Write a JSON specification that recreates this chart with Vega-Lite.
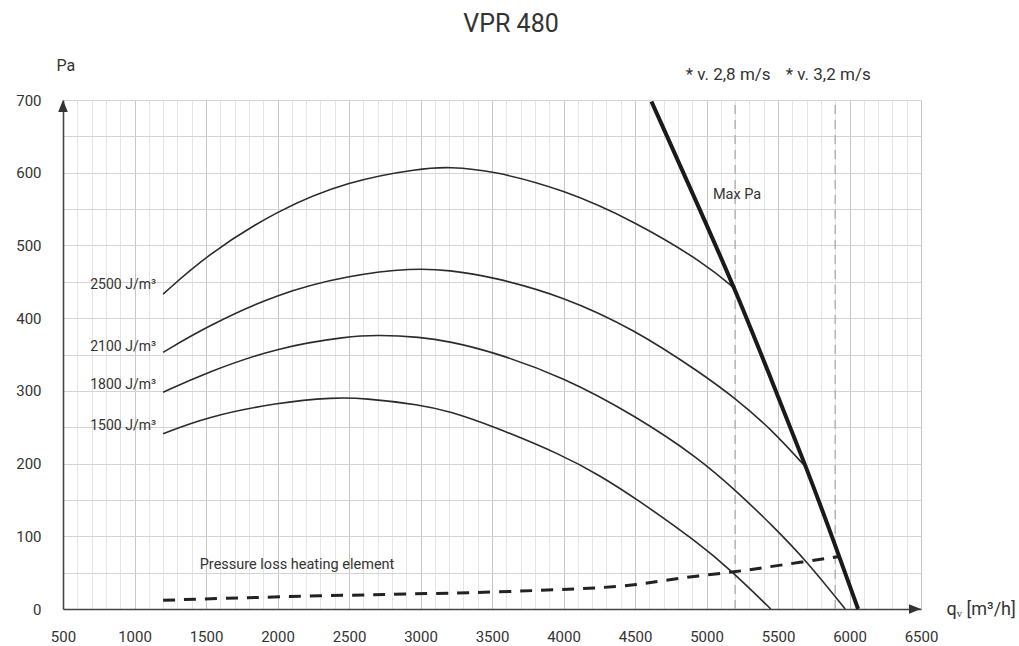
{
  "$schema": "https://vega.github.io/schema/vega-lite/v6.json",
  "width": 858,
  "height": 509,
  "autosize": {"type": "none"},
  "padding": {"left": 63, "top": 100, "right": 98, "bottom": 37},
  "background": "white",
  "config": {
    "view": {"stroke": null},
    "font": "Roboto",
    "text": {"font": "Roboto", "color": "#333333"}
  },
  "title": {
    "text": "VPR 480",
    "fontSize": 25,
    "fontWeight": "normal",
    "font": "Roboto",
    "color": "#333333",
    "anchor": "middle",
    "frame": "group",
    "dx": 19,
    "offset": 20
  },
  "datasets": {
    "curves": [
      {"curve": "2500", "q": 1200, "pa": 433},
      {"curve": "2500", "q": 1500, "pa": 486},
      {"curve": "2500", "q": 2000, "pa": 549},
      {"curve": "2500", "q": 2500, "pa": 589},
      {"curve": "2500", "q": 3000, "pa": 606},
      {"curve": "2500", "q": 3200, "pa": 608},
      {"curve": "2500", "q": 3500, "pa": 603},
      {"curve": "2500", "q": 4000, "pa": 577},
      {"curve": "2500", "q": 4500, "pa": 533},
      {"curve": "2500", "q": 5000, "pa": 474},
      {"curve": "2500", "q": 5200, "pa": 440},
      {"curve": "2100", "q": 1200, "pa": 353},
      {"curve": "2100", "q": 1500, "pa": 388},
      {"curve": "2100", "q": 2000, "pa": 434},
      {"curve": "2100", "q": 2500, "pa": 459},
      {"curve": "2100", "q": 2950, "pa": 469},
      {"curve": "2100", "q": 3200, "pa": 466},
      {"curve": "2100", "q": 3500, "pa": 457},
      {"curve": "2100", "q": 4000, "pa": 430},
      {"curve": "2100", "q": 4500, "pa": 384},
      {"curve": "2100", "q": 4950, "pa": 326},
      {"curve": "2100", "q": 5200, "pa": 290},
      {"curve": "2100", "q": 5450, "pa": 248},
      {"curve": "2100", "q": 5700, "pa": 194},
      {"curve": "1800", "q": 1200, "pa": 298},
      {"curve": "1800", "q": 1500, "pa": 325},
      {"curve": "1800", "q": 2000, "pa": 360},
      {"curve": "1800", "q": 2500, "pa": 375},
      {"curve": "1800", "q": 2700, "pa": 377},
      {"curve": "1800", "q": 3000, "pa": 374},
      {"curve": "1800", "q": 3200, "pa": 368},
      {"curve": "1800", "q": 3500, "pa": 354},
      {"curve": "1800", "q": 4000, "pa": 319},
      {"curve": "1800", "q": 4500, "pa": 266},
      {"curve": "1800", "q": 4950, "pa": 207},
      {"curve": "1800", "q": 5210, "pa": 162},
      {"curve": "1800", "q": 5465, "pa": 114},
      {"curve": "1800", "q": 5700, "pa": 66},
      {"curve": "1800", "q": 5970, "pa": 0},
      {"curve": "1500", "q": 1200, "pa": 241},
      {"curve": "1500", "q": 1500, "pa": 264},
      {"curve": "1500", "q": 2000, "pa": 284},
      {"curve": "1500", "q": 2400, "pa": 291},
      {"curve": "1500", "q": 2600, "pa": 290},
      {"curve": "1500", "q": 3000, "pa": 281},
      {"curve": "1500", "q": 3200, "pa": 272},
      {"curve": "1500", "q": 3500, "pa": 252},
      {"curve": "1500", "q": 4000, "pa": 211},
      {"curve": "1500", "q": 4250, "pa": 184},
      {"curve": "1500", "q": 4500, "pa": 153},
      {"curve": "1500", "q": 4950, "pa": 90},
      {"curve": "1500", "q": 5160, "pa": 55},
      {"curve": "1500", "q": 5450, "pa": 0}
    ],
    "maxPa": [
      {"q": 4615, "pa": 698},
      {"q": 4900, "pa": 573},
      {"q": 5200, "pa": 440},
      {"q": 5450, "pa": 317},
      {"q": 5700, "pa": 194},
      {"q": 5900, "pa": 88},
      {"q": 6060, "pa": 0}
    ],
    "heating": [
      {"q": 1200, "pa": 12},
      {"q": 2000, "pa": 17},
      {"q": 3000, "pa": 21},
      {"q": 3500, "pa": 23},
      {"q": 4000, "pa": 27},
      {"q": 4250, "pa": 29},
      {"q": 4500, "pa": 33},
      {"q": 4700, "pa": 39},
      {"q": 4950, "pa": 46},
      {"q": 5200, "pa": 51},
      {"q": 5400, "pa": 57},
      {"q": 5650, "pa": 64},
      {"q": 5920, "pa": 72}
    ],
    "speed": [
      {"q": 5200, "pa": 0, "pa2": 700},
      {"q": 5900, "pa": 0, "pa2": 700}
    ],
    "speedLabels": [
      {"q": 5200, "pa": 728, "label": "* v. 2,8 m/s"},
      {"q": 5900, "pa": 728, "label": "* v. 3,2 m/s"}
    ],
    "curveLabels": [
      {"q": 1200, "pa": 446, "label": "2500 J/m³"},
      {"q": 1200, "pa": 361, "label": "2100 J/m³"},
      {"q": 1200, "pa": 308, "label": "1800 J/m³"},
      {"q": 1200, "pa": 251, "label": "1500 J/m³"}
    ],
    "notes": [
      {"q": 5045, "pa": 569, "label": "Max Pa"},
      {"q": 1456, "pa": 60, "label": "Pressure loss heating element"}
    ],
    "arrows": [
      {"q": 6500, "pa": 0, "dir": "right"},
      {"q": 500, "pa": 700, "dir": "up"}
    ]
  },
  "encoding": {
    "x": {
      "field": "q",
      "type": "quantitative",
      "scale": {"domain": [500, 6500], "nice": false, "zero": false},
      "axis": {
        "values": [500, 600, 700, 800, 900, 1000, 1100, 1200, 1300, 1400, 1500, 1600, 1700, 1800, 1900, 2000, 2100, 2200, 2300, 2400, 2500, 2600, 2700, 2800, 2900, 3000, 3100, 3200, 3300, 3400, 3500, 3600, 3700, 3800, 3900, 4000, 4100, 4200, 4300, 4400, 4500, 4600, 4700, 4800, 4900, 5000, 5100, 5200, 5300, 5400, 5500, 5600, 5700, 5800, 5900, 6000, 6100, 6200, 6300, 6400, 6500],
        "labelExpr": "datum.value % 500 === 0 ? datum.label : ''",
        "format": "d",
        "grid": true,
        "gridColor": {"condition": {"test": "datum.value % 500 === 0", "value": "#c6c6c6"}, "value": "#e4e4e4"},
        "gridWidth": 1,
        "ticks": false,
        "tickSize": 0,
        "domain": true,
        "domainColor": "#444444",
        "domainWidth": 1.6,
        "labelFontSize": 15,
        "labelColor": "#333333",
        "labelPadding": 20,
        "labelFlush": false,
        "labelOverlap": false,
        "title": "qᵥ [m³/h]",
        "titleFontSize": 18,
        "titleFontWeight": "normal",
        "titleColor": "#333333",
        "titleAlign": "left",
        "titleBaseline": "alphabetic",
        "titleX": 883,
        "titleY": 5
      }
    },
    "y": {
      "field": "pa",
      "type": "quantitative",
      "scale": {"domain": [0, 700], "nice": false, "zero": true},
      "axis": {
        "values": [0, 50, 100, 150, 200, 250, 300, 350, 400, 450, 500, 550, 600, 650, 700],
        "labelExpr": "datum.value % 100 === 0 ? datum.label : ''",
        "grid": true,
        "gridColor": "#d4d4d4",
        "gridWidth": 1,
        "ticks": false,
        "tickSize": 0,
        "domain": true,
        "domainColor": "#444444",
        "domainWidth": 1.6,
        "labelFontSize": 15,
        "labelColor": "#333333",
        "labelPadding": 22,
        "labelFlush": false,
        "labelOverlap": false,
        "title": "Pa",
        "titleFontSize": 16,
        "titleFontWeight": "normal",
        "titleColor": "#333333",
        "titleAngle": 0,
        "titleAlign": "left",
        "titleBaseline": "alphabetic",
        "titleX": -7,
        "titleY": -30
      }
    }
  },
  "layer": [
    {
      "data": {"name": "speed"},
      "mark": {"type": "rule", "color": "#b4b4b4", "strokeWidth": 1.5, "strokeDash": [9, 6]},
      "encoding": {"y2": {"field": "pa2"}}
    },
    {
      "data": {"name": "curves"},
      "mark": {"type": "line", "color": "#2b2b2b", "strokeWidth": 1.6, "interpolate": "basis"},
      "encoding": {"detail": {"field": "curve", "type": "nominal"}}
    },
    {
      "data": {"name": "heating"},
      "mark": {"type": "line", "color": "#222222", "strokeWidth": 3, "strokeDash": [12, 9], "interpolate": "basis"},
      "encoding": {}
    },
    {
      "data": {"name": "maxPa"},
      "mark": {"type": "line", "color": "#1a1a1a", "strokeWidth": 4, "interpolate": "basis"},
      "encoding": {}
    },
    {
      "data": {"name": "arrows"},
      "mark": {"type": "point", "filled": true, "opacity": 1, "size": 144, "color": "#333333", "strokeWidth": 0},
      "encoding": {
        "shape": {
          "field": "dir",
          "type": "nominal",
          "scale": {"domain": ["right", "up"], "range": ["M0,0L-2,-0.8L-2,0.8Z", "M0,0L-0.8,2L0.8,2Z"]},
          "legend": null
        }
      }
    },
    {
      "data": {"name": "speedLabels"},
      "mark": {"type": "text", "fontSize": 17, "align": "center", "baseline": "alphabetic", "dx": -7, "color": "#333333"},
      "encoding": {"text": {"field": "label"}}
    },
    {
      "data": {"name": "curveLabels"},
      "mark": {"type": "text", "fontSize": 14, "align": "right", "baseline": "middle", "dx": -7, "color": "#333333"},
      "encoding": {"text": {"field": "label"}}
    },
    {
      "data": {"name": "notes"},
      "mark": {"type": "text", "fontSize": 14.5, "align": "left", "baseline": "middle", "color": "#333333"},
      "encoding": {"text": {"field": "label"}}
    }
  ]
}
